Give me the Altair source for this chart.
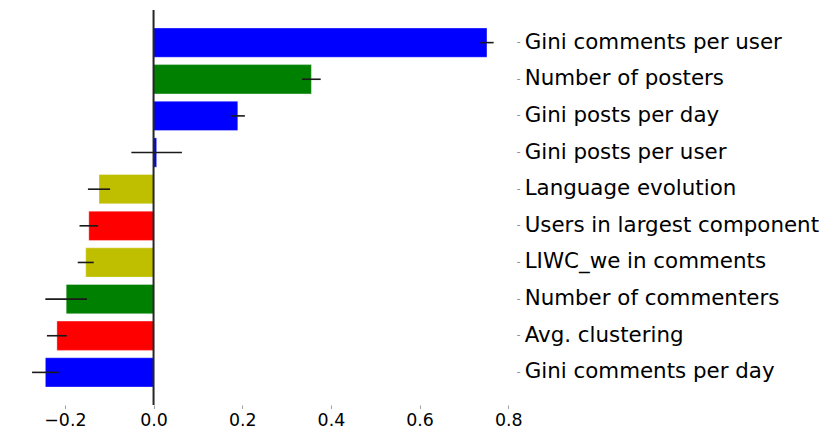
import altair as alt
import pandas as pd

features = [
    "Gini comments per user",
    "Number of posters",
    "Gini posts per day",
    "Gini posts per user",
    "Language evolution",
    "Users in largest component",
    "LIWC_we in comments",
    "Number of commenters",
    "Avg. clustering",
    "Gini comments per day",
]
coef = [0.752, 0.356, 0.190, 0.007, -0.123, -0.146, -0.153, -0.197, -0.218, -0.244]
err = [0.015, 0.021, 0.016, 0.057, 0.025, 0.021, 0.018, 0.047, 0.0225, 0.030]
group = ["inequality", "activity", "inequality", "inequality", "language",
         "network", "language", "activity", "network", "inequality"]

group_domain = ["inequality", "activity", "language", "network"]
group_colors = ["#0000ff", "#008000", "#bfbf00", "#ff0000"]

df = pd.DataFrame({"feature": features, "coef": coef, "err": err, "group": group})
df["lo"] = df["coef"] - df["err"]
df["hi"] = df["coef"] + df["err"]
df["zero"] = 0.0

FONT = "DejaVu Sans"

xscale = alt.Scale(domain=[-0.326, 0.819], nice=False, zero=False)
yscale = alt.Scale(paddingInner=0.2, paddingOuter=0.49)

base = alt.Chart(df)

bars = base.mark_bar(strokeWidth=1, strokeOpacity=0.35, stroke="white").encode(
    x=alt.X("coef:Q", scale=xscale,
            axis=alt.Axis(values=[-0.2, 0.0, 0.2, 0.4, 0.6, 0.8],
                          labelExpr="replace(format(datum.value, '.1f'), '-', '\u2212')",
                          title=None, domain=False, grid=False,
                          tickSize=3.5, tickColor="#888", tickWidth=0.8,
                          labelFont=FONT, labelFontSize=17.4, labelColor="#000",
                          labelPadding=3)),
    x2="zero:Q",
    y=alt.Y("feature:N", sort=features, scale=yscale,
            axis=alt.Axis(orient="right", title=None, domain=False, grid=False,
                          tickSize=3, tickColor="#777", tickWidth=0.8,
                          labelFont=FONT, labelFontSize=21.4, labelColor="#000",
                          labelPadding=4.5, labelLimit=0)),
    color=alt.Color("group:N", scale=alt.Scale(domain=group_domain, range=group_colors),
                    legend=None),
)

zero_line = alt.Chart(pd.DataFrame({"v": [0.0]})).mark_rule(
    color="#262626", strokeWidth=2).encode(
    x=alt.X("v:Q", scale=xscale),
)

errbars = base.mark_rule(color="#1a1a1a", strokeWidth=1.6).encode(
    x=alt.X("lo:Q", scale=xscale),
    x2="hi:Q",
    y=alt.Y("feature:N", sort=features, scale=yscale),
)

chart = alt.layer(bars, zero_line, errbars).properties(
    width=507.7, height=395,
    padding={"left": 1, "top": 1, "right": 0, "bottom": 0},
    background="white",
).configure_view(strokeWidth=0, stroke=None)

chart.save("out.html", embed_options={"renderer": "svg", "actions": False})
